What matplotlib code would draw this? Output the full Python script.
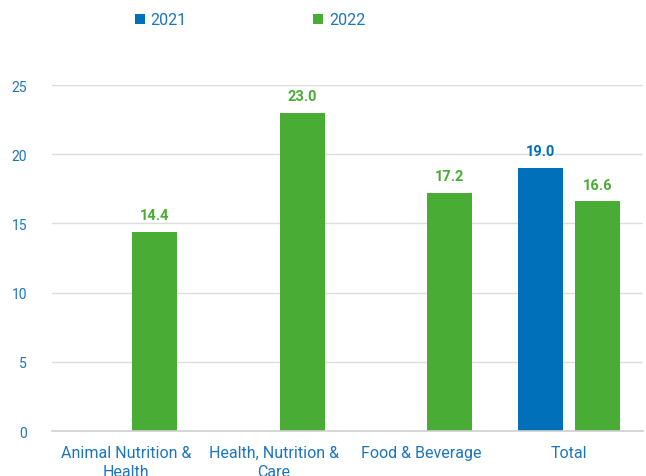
import numpy as np
import matplotlib.pyplot as plt

# data
categories = ["Animal Nutrition &\nHealth", "Health, Nutrition &\nCare", "Food & Beverage", "Total"]
series_names = ["2021", "2022"]
values_2021 = [np.nan, np.nan, np.nan, 19.0]
values_2022 = [14.4, 23.0, 17.2, 16.6]

blue = "#0070BA"
green = "#48AC35"
text_blue = "#1C75BC"

plt.rcParams['font.family'] = ['Roboto', 'DejaVu Sans']

fig = plt.figure(figsize=(6.46, 4.77), dpi=100)
ax = fig.add_axes([0.0807, 0.0943, 0.9146, 0.7254])

x = np.arange(len(categories))
w = 0.304
off = 0.193

b1 = ax.bar(x - off, values_2021, w, color=blue, label=series_names[0], zorder=3)
b2 = ax.bar(x + off, values_2022, w, color=green, label=series_names[1], zorder=3)

# value labels
for bars, vals, col in [(b1, values_2021, blue), (b2, values_2022, green)]:
    for rect, v in zip(bars, vals):
        if np.isnan(v):
            continue
        ax.annotate(f"{v:.1f}", (rect.get_x() + rect.get_width() / 2, v),
                    xytext=(0, 7), textcoords="offset points",
                    ha="center", va="bottom", fontsize=10.5, fontweight="bold",
                    color=col, clip_on=False)

ax.set_xlim(-0.5, 3.5)
ax.set_ylim(0, 25)
ax.set_yticks([0, 5, 10, 15, 20, 25])
ax.set_xticks(x)
ax.set_xticklabels(categories, fontsize=11.5, color=text_blue, linespacing=1.35)
ax.tick_params(axis="y", labelsize=10, colors=text_blue, length=0, pad=18)
ax.tick_params(axis="x", length=0, pad=10)

# grid
ax.grid(axis="y", color="#DDDDDD", linewidth=1, zorder=0)
for s in ["top", "right", "left"]:
    ax.spines[s].set_visible(False)
ax.spines["bottom"].set_color("#D0D0D0")
ax.spines["bottom"].set_linewidth(1.2)
ax.spines["bottom"].set_zorder(4)

leg = fig.legend(loc="center", bbox_to_anchor=(0.387, 0.956), ncol=2, frameon=False,
                 fontsize=11.5, handlelength=0.65, handleheight=0.65, handletextpad=0.35,
                 columnspacing=7.9)
for t in leg.get_texts():
    t.set_color(text_blue)

fig.savefig("out.png", dpi=100)
